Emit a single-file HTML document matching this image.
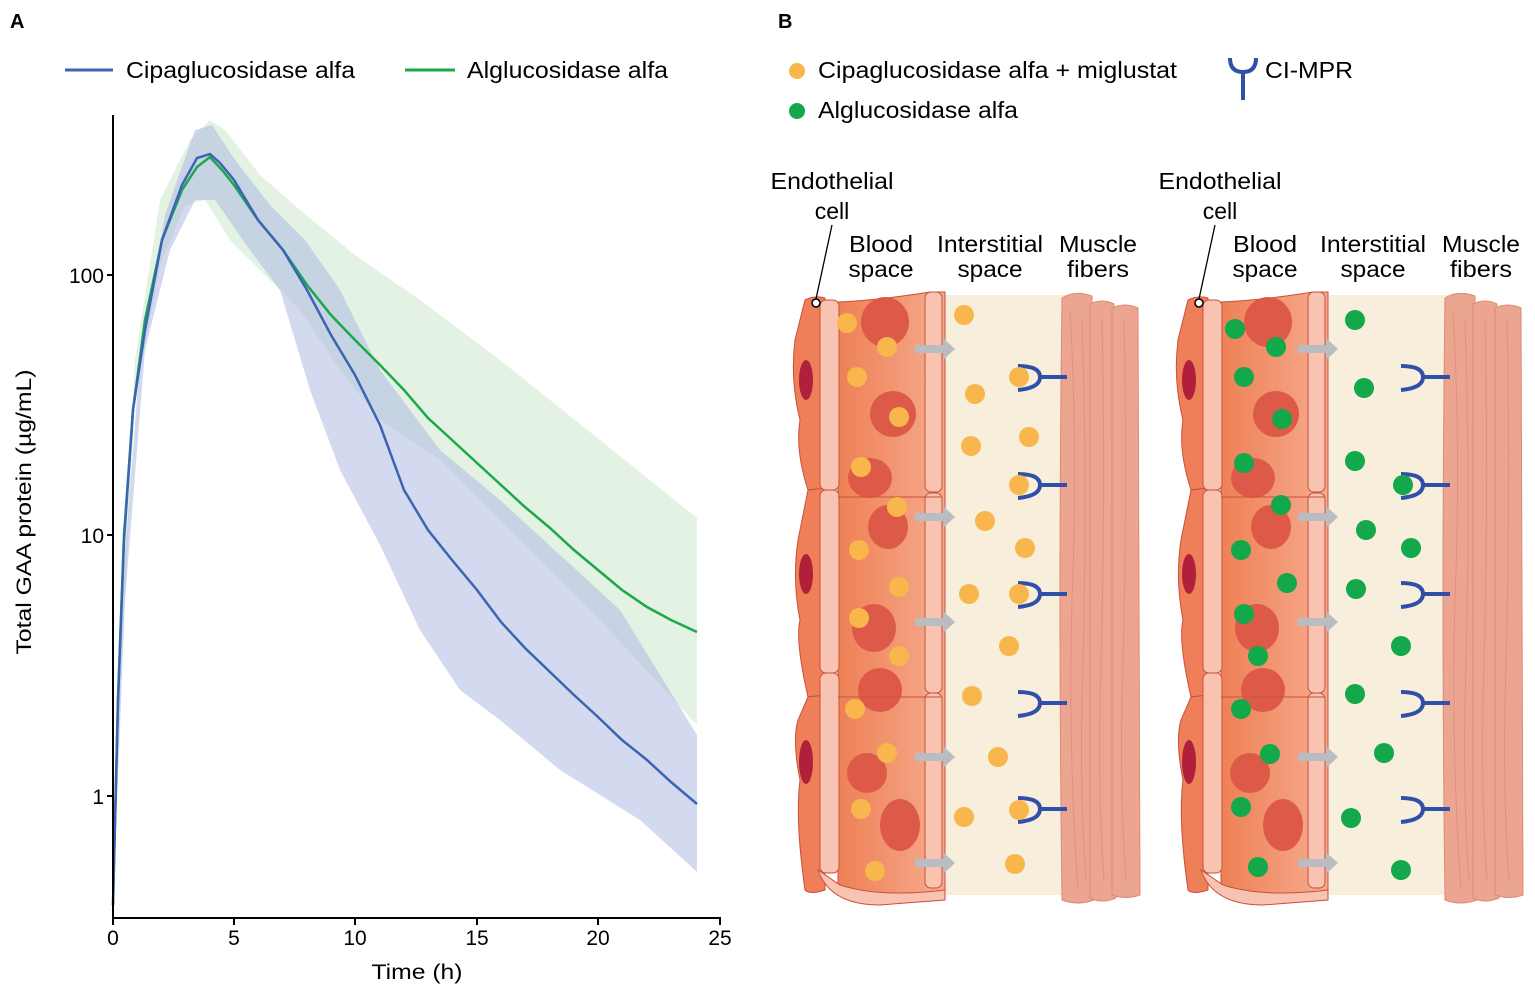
<!DOCTYPE html>
<html><head><meta charset="utf-8"><style>
body{margin:0;background:#fff;}
svg{display:block;font-family:"Liberation Sans",Arial,sans-serif;}
</style></head><body>
<svg width="1535" height="995" viewBox="0 0 1535 995" xmlns="http://www.w3.org/2000/svg">
<defs>
<linearGradient id="bl" x1="0" x2="1"><stop offset="0" stop-color="#ee8055"/><stop offset="1" stop-color="#f6ab8e"/></linearGradient>
<g id="vessel">
  <rect x="940" y="295" width="125" height="600" fill="#f7efdc"/>
  <g fill="#eca590" stroke="#dc8a75" stroke-width="1">
    <path d="M1062 298 Q1075 290 1092 296 L1094 900 Q1078 906 1062 900 Q1058 600 1062 298Z"/>
    <path d="M1090 304 Q1102 298 1114 304 L1116 898 Q1102 904 1090 898Z"/>
    <path d="M1112 308 Q1125 302 1138 308 L1140 895 Q1126 900 1112 895Z"/>
  </g>
  <g stroke="#dc8a75" stroke-width="1" fill="none" opacity="0.7">
    <path d="M1070 310 Q1078 450 1072 600 Q1068 750 1078 890"/>
    <path d="M1082 320 Q1088 500 1082 700 Q1080 800 1086 880"/>
    <path d="M1102 320 Q1106 500 1100 700 Q1098 800 1104 880"/>
    <path d="M1124 320 Q1128 500 1122 700 Q1120 800 1126 880"/>
  </g>
  <path d="M838 302 Q880 300 930 292 L945 292 L945 890 Q890 900 838 895Z" fill="url(#bl)" stroke="#c9503c" stroke-width="1"/>
  <g fill="#dd5a48">
    <ellipse cx="885" cy="322" rx="24" ry="25"/><ellipse cx="893" cy="414" rx="23" ry="23"/>
    <ellipse cx="870" cy="478" rx="22" ry="20"/><ellipse cx="888" cy="527" rx="20" ry="22"/>
    <ellipse cx="874" cy="628" rx="22" ry="24"/><ellipse cx="880" cy="690" rx="22" ry="22"/>
    <ellipse cx="867" cy="773" rx="20" ry="20"/><ellipse cx="900" cy="825" rx="20" ry="26"/>
  </g>
  <g fill="#ee7f58" stroke="#c9503c" stroke-width="1">
    <path d="M805 300 Q815 295 825 298 L825 488 L808 490 Q795 450 800 420 Q790 380 795 340Z"/>
    <path d="M808 490 L825 488 L825 695 L808 697 Q795 640 800 620 Q792 580 798 540Z"/>
    <path d="M808 697 L825 695 L825 890 Q810 895 805 890 Q795 820 800 780 Q792 740 798 720Z"/>
  </g>
  <g fill="#b0203a"><ellipse cx="806" cy="380" rx="7" ry="20"/><ellipse cx="806" cy="574" rx="7" ry="20"/><ellipse cx="806" cy="762" rx="7" ry="22"/></g>
  <g fill="#f8c3b0" stroke="#c9503c" stroke-width="1">
    <rect x="820" y="300" width="19" height="190" rx="6"/><rect x="820" y="490" width="19" height="183" rx="6"/><rect x="820" y="673" width="19" height="200" rx="6"/>
    <rect x="925" y="292" width="17" height="200" rx="6"/><rect x="925" y="493" width="17" height="200" rx="6"/><rect x="925" y="693" width="17" height="195" rx="6"/>
  </g>
  <path d="M818 870 Q830 905 880 905 L945 900 L945 890 Q880 898 840 885Z" fill="#f8c3b0" stroke="#c9503c"/>
  <line x1="838" y1="497" x2="942" y2="497" stroke="#c9503c"/><line x1="838" y1="697" x2="942" y2="697" stroke="#c9503c"/>
  <g fill="#b9bcc1">
    <path d="M915 345h28v-7l12 11-12 11v-7h-28z"/><path d="M915 513h28v-7l12 11-12 11v-7h-28z"/>
    <path d="M915 618h28v-7l12 11-12 11v-7h-28z"/><path d="M915 753h28v-7l12 11-12 11v-7h-28z"/>
    <path d="M915 859h28v-7l12 11-12 11v-7h-28z"/>
  </g>
  <g fill="none" stroke="#2f4fa8" stroke-width="4">
    <path d="M1018 366 Q1040 366 1040 377 Q1040 388 1018 390 M1040 377 H1067"/>
    <path d="M1018 474 Q1040 474 1040 485 Q1040 496 1018 498 M1040 485 H1067"/>
    <path d="M1018 583 Q1040 583 1040 594 Q1040 605 1018 607 M1040 594 H1067"/>
    <path d="M1018 692 Q1040 692 1040 703 Q1040 714 1018 716 M1040 703 H1067"/>
    <path d="M1018 798 Q1040 798 1040 809 Q1040 820 1018 822 M1040 809 H1067"/>
  </g>
  <circle cx="816" cy="303" r="4" fill="#fff" stroke="#000" stroke-width="1.5"/>
  <line x1="816" y1="299" x2="832" y2="225" stroke="#000" stroke-width="1.3"/>
</g>
</defs>

<text x="10" y="28" font-size="20" font-weight="bold">A</text>
<line x1="65" y1="70" x2="113" y2="70" stroke="#3c64b4" stroke-width="3"/>
<text x="126" y="78" font-size="23" textLength="229" lengthAdjust="spacingAndGlyphs">Cipaglucosidase alfa</text>
<line x1="405" y1="70" x2="455" y2="70" stroke="#1aa84a" stroke-width="3"/>
<text x="467" y="78" font-size="23" textLength="201" lengthAdjust="spacingAndGlyphs">Alglucosidase alfa</text>

<path d="M113 905 L120 620 L135 360 L160 200 L190 140 L210 120 L225 130 L260 175 L300 210 L355 255 L420 300 L500 360 L600 440 L697 518 L697 725 L600 620 L500 520 L440 460 L380 420 L340 370 L300 310 L260 270 L230 240 L205 200 L185 205 L160 265 L135 400 L120 700Z" fill="#cde8cd" opacity="0.55"/>
<path d="M113 905 L120 620 L140 360 L165 215 L195 130 L212 125 L235 160 L270 205 L305 240 L340 290 L380 370 L410 410 L440 450 L500 500 L560 555 L620 610 L697 735 L697 872 L640 820 L560 770 L500 720 L460 690 L420 630 L380 545 L340 470 L310 390 L280 290 L250 250 L215 200 L195 200 L170 250 L145 350 L125 600Z" fill="#a7b3e0" opacity="0.5"/>

<polyline fill="none" stroke="#1aa84a" stroke-width="2.5" points="113,905 118,700 124,535 133,410 145,320 162,240 182,190 197,167 210,157 222,170 234,185 258,220 283,250 307,285 331,315 355,340 380,365 404,390 428,418 452,440 477,463 501,485 525,507 550,528 574,550 598,570 622,590 647,607 671,620 697,632"/>
<polyline fill="none" stroke="#3c64b4" stroke-width="2.5" points="113,905 118,700 124,540 133,410 145,330 162,240 182,185 197,158 210,154 220,163 234,180 258,220 283,250 307,290 331,335 355,375 380,425 404,490 428,530 452,560 477,590 501,622 525,648 550,672 574,695 598,717 622,740 647,760 671,782 697,804"/>

<g stroke="#000" stroke-width="2" fill="none">
<line x1="113" y1="115" x2="113" y2="919"/><line x1="112" y1="918" x2="721" y2="918"/>
<line x1="107" y1="275" x2="113" y2="275"/><line x1="107" y1="535" x2="113" y2="535"/><line x1="107" y1="796" x2="113" y2="796"/>
<line x1="113" y1="918" x2="113" y2="925"/><line x1="234" y1="918" x2="234" y2="925"/><line x1="355" y1="918" x2="355" y2="925"/><line x1="477" y1="918" x2="477" y2="925"/><line x1="598" y1="918" x2="598" y2="925"/><line x1="720" y1="918" x2="720" y2="925"/>
</g>
<g font-size="21" text-anchor="end"><text x="104" y="283">100</text><text x="104" y="543">10</text><text x="104" y="804">1</text></g>
<g font-size="21" text-anchor="middle"><text x="113" y="945">0</text><text x="234" y="945">5</text><text x="355" y="945">10</text><text x="477" y="945">15</text><text x="598" y="945">20</text><text x="720" y="945">25</text>
<text x="417" y="979" textLength="91" lengthAdjust="spacingAndGlyphs">Time (h)</text>
<text transform="translate(31,512) rotate(-90)" textLength="285" lengthAdjust="spacingAndGlyphs">Total GAA protein (µg/mL)</text></g>

<text x="778" y="28" font-size="20" font-weight="bold">B</text>
<circle cx="797" cy="71" r="8" fill="#f8b64c"/><text x="818" y="78" font-size="23" textLength="359" lengthAdjust="spacingAndGlyphs">Cipaglucosidase alfa + miglustat</text>
<circle cx="797" cy="111" r="8" fill="#13a84a"/><text x="818" y="118" font-size="23" textLength="200" lengthAdjust="spacingAndGlyphs">Alglucosidase alfa</text>
<path d="M1230 58 Q1230 72 1243 72 Q1256 72 1256 58 M1243 72 V100" fill="none" stroke="#2f4fa8" stroke-width="4"/>
<text x="1265" y="78" font-size="23" textLength="88" lengthAdjust="spacingAndGlyphs">CI-MPR</text>

<g font-size="23" text-anchor="middle">
<text x="832" y="189" textLength="123" lengthAdjust="spacingAndGlyphs">Endothelial</text><text x="832" y="219">cell</text>
<text x="881" y="252" textLength="64" lengthAdjust="spacingAndGlyphs">Blood</text><text x="881" y="277" textLength="65" lengthAdjust="spacingAndGlyphs">space</text>
<text x="990" y="252" textLength="106" lengthAdjust="spacingAndGlyphs">Interstitial</text><text x="990" y="277" textLength="65" lengthAdjust="spacingAndGlyphs">space</text>
<text x="1098" y="252" textLength="78" lengthAdjust="spacingAndGlyphs">Muscle</text><text x="1098" y="277" textLength="62" lengthAdjust="spacingAndGlyphs">fibers</text>
<text x="1220" y="189" textLength="123" lengthAdjust="spacingAndGlyphs">Endothelial</text><text x="1220" y="219">cell</text>
<text x="1265" y="252" textLength="64" lengthAdjust="spacingAndGlyphs">Blood</text><text x="1265" y="277" textLength="65" lengthAdjust="spacingAndGlyphs">space</text>
<text x="1373" y="252" textLength="106" lengthAdjust="spacingAndGlyphs">Interstitial</text><text x="1373" y="277" textLength="65" lengthAdjust="spacingAndGlyphs">space</text>
<text x="1481" y="252" textLength="78" lengthAdjust="spacingAndGlyphs">Muscle</text><text x="1481" y="277" textLength="62" lengthAdjust="spacingAndGlyphs">fibers</text>
</g>

<use href="#vessel"/>
<use href="#vessel" transform="translate(383,0)"/>

<g fill="#f8b64c">
<circle cx="847" cy="323" r="10"/><circle cx="887" cy="347" r="10"/><circle cx="857" cy="377" r="10"/><circle cx="899" cy="417" r="10"/><circle cx="861" cy="467" r="10"/><circle cx="897" cy="507" r="10"/><circle cx="859" cy="550" r="10"/><circle cx="899" cy="587" r="10"/><circle cx="859" cy="618" r="10"/><circle cx="899" cy="656" r="10"/><circle cx="855" cy="709" r="10"/><circle cx="887" cy="753" r="10"/><circle cx="861" cy="809" r="10"/><circle cx="875" cy="871" r="10"/>
<circle cx="964" cy="315" r="10"/><circle cx="975" cy="394" r="10"/><circle cx="971" cy="446" r="10"/><circle cx="1029" cy="437" r="10"/><circle cx="985" cy="521" r="10"/><circle cx="1025" cy="548" r="10"/><circle cx="969" cy="594" r="10"/><circle cx="1009" cy="646" r="10"/><circle cx="972" cy="696" r="10"/><circle cx="998" cy="757" r="10"/><circle cx="964" cy="817" r="10"/><circle cx="1015" cy="864" r="10"/>
<circle cx="1019" cy="377" r="10"/><circle cx="1019" cy="485" r="10"/><circle cx="1019" cy="594" r="10"/><circle cx="1019" cy="810" r="10"/>
</g>
<g fill="#13a84a">
<circle cx="1235" cy="329" r="10"/><circle cx="1276" cy="347" r="10"/><circle cx="1244" cy="377" r="10"/><circle cx="1282" cy="419" r="10"/><circle cx="1244" cy="463" r="10"/><circle cx="1281" cy="505" r="10"/><circle cx="1241" cy="550" r="10"/><circle cx="1287" cy="583" r="10"/><circle cx="1244" cy="614" r="10"/><circle cx="1258" cy="656" r="10"/><circle cx="1241" cy="709" r="10"/><circle cx="1270" cy="754" r="10"/><circle cx="1241" cy="807" r="10"/><circle cx="1258" cy="867" r="10"/>
<circle cx="1355" cy="320" r="10"/><circle cx="1364" cy="388" r="10"/><circle cx="1355" cy="461" r="10"/><circle cx="1366" cy="530" r="10"/><circle cx="1411" cy="548" r="10"/><circle cx="1356" cy="589" r="10"/><circle cx="1401" cy="646" r="10"/><circle cx="1355" cy="694" r="10"/><circle cx="1384" cy="753" r="10"/><circle cx="1351" cy="818" r="10"/><circle cx="1401" cy="870" r="10"/><circle cx="1403" cy="485" r="10"/>
</g>
</svg>
</body></html>
